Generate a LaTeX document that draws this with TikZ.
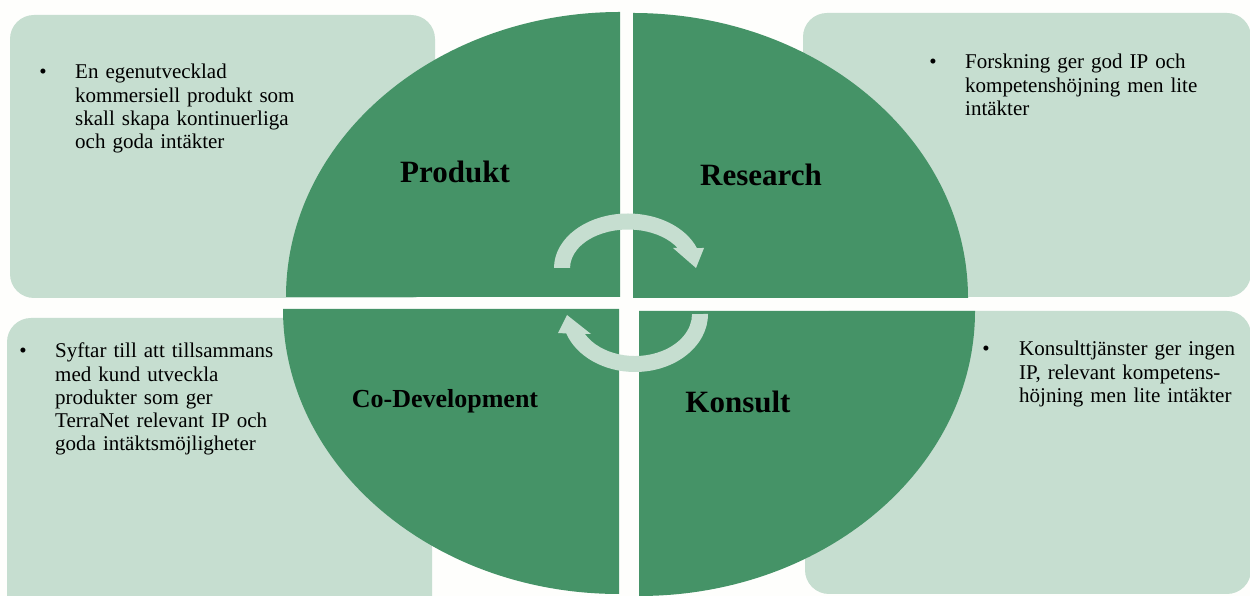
\documentclass[tikz,border=0pt]{standalone}
\usepackage{fontspec}
\setmainfont{Liberation Serif}

\definecolor{quadgreen}{RGB}{69,147,103}
\definecolor{boxgreen}{RGB}{198,222,208}
\definecolor{paper}{RGB}{254,254,252}

\tikzset{
  infobox/.style={fill=boxgreen, rounded corners=24pt},
  quadrant/.style={fill=quadgreen},
  title/.style={font=\fontsize{31}{36}\selectfont\bfseries, anchor=base, inner sep=0pt},
  note/.style={font=\fontsize{21}{23.2}\selectfont, anchor=base west, inner sep=0pt, text width=300pt, align=left},
  dot/.style={font=\fontsize{21}{23.2}\selectfont, anchor=base, inner sep=0pt},
}

\begin{document}
\begin{tikzpicture}[x=1pt,y=1pt]
\useasboundingbox (0,0) rectangle (1250,596);
\fill[paper] (0,0) rectangle (1250,596);

% boxes behind the circle
\fill[infobox] (10,298) rectangle (435,581);
\fill[infobox] (803,299) rectangle (1251,583);
\fill[infobox] (7,-30) rectangle (432,278);
\fill[infobox] (805,2) rectangle (1251,285);

% the four quarters
\fill[quadrant] (620,299) -- ++(-334,0) arc[start angle=180, end angle=90, x radius=334, y radius=285] -- cycle;
\fill[quadrant] (633,298) -- ++(0,285) arc[start angle=90, end angle=0, x radius=335, y radius=285] -- cycle;
\fill[quadrant] (619,287) -- ++(-336,0) arc[start angle=180, end angle=270, x radius=336, y radius=285] -- cycle;
\fill[quadrant] (639,285) -- ++(336,0) arc[start angle=0, end angle=-90, x radius=336, y radius=285] -- cycle;

% labels
\node[title] (produkt) at (455,413) {Produkt};
\node[title] (research) at (761,410) {Research};
\node[title, font=\fontsize{26}{30}\selectfont\bfseries] (codev) at (445,188) {Co-Development};
\node[title] (konsult) at (738,183) {Konsult};

% circular arrows
\fill[boxgreen] (570,328) -- (554,328)
  arc[start angle=180, end angle=21.5, x radius=74, y radius=54.5]
  -- (704,348) -- (696,328) -- (673,348) -- (677.6,348)
  arc[start angle=31.3, end angle=180, x radius=58, y radius=38.5] -- cycle;
\fill[boxgreen] (708,282)
  arc[start angle=0, end angle=-160.4, x radius=73, y radius=58]
  -- (558,263) -- (567,281) -- (591,262) -- (584.9,262)
  arc[start angle=-151.6, end angle=0, x radius=57, y radius=42] -- cycle;

% bullet texts
\node[dot] (b1) at (43,517) {•};
\node[note] (t1) at (75,517) {En egenutvecklad\\kommersiell produkt som\\skall skapa kontinuerliga\\och goda intäkter};
\node[dot] (b2) at (933,527) {•};
\node[note] (t2) at (965,527) {Forskning ger god IP och\\kompetenshöjning men lite\\intäkter};
\node[dot] (b3) at (23,238) {•};
\node[note] (t3) at (55,238) {Syftar till att tillsammans\\med kund utveckla\\produkter som ger\\TerraNet relevant IP och\\goda intäktsmöjligheter};
\node[dot] (b4) at (986,240) {•};
\node[note] (t4) at (1019,240) {Konsulttjänster ger ingen\\IP, relevant kompetens-\\höjning men lite intäkter};
\end{tikzpicture}
\end{document}
